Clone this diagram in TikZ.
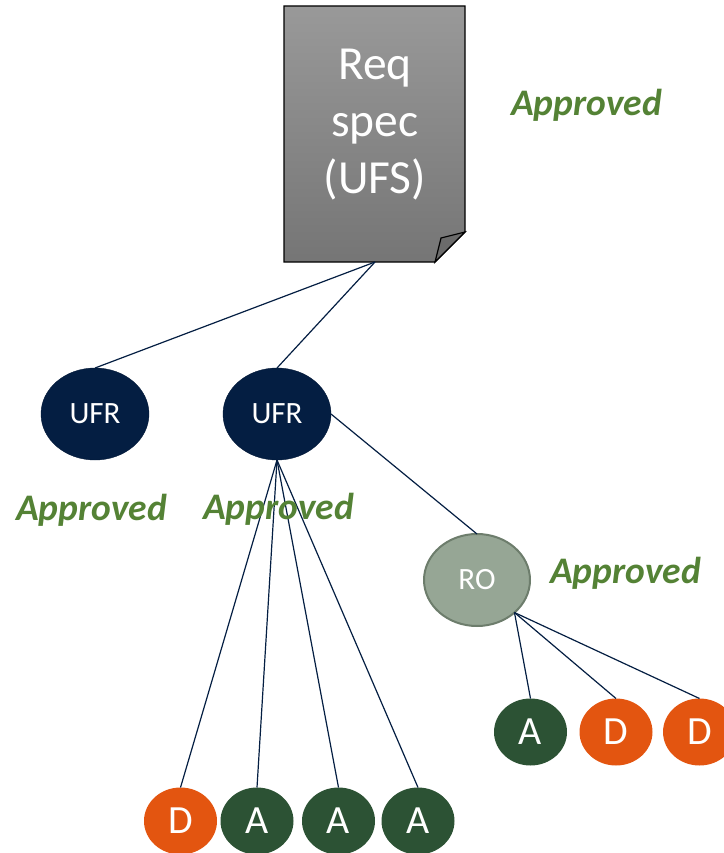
\documentclass[tikz,border=0pt]{standalone}
\usepackage{fontspec}
\setmainfont{Carlito}
\usetikzlibrary{shapes.geometric}
\definecolor{navy}{HTML}{041E42}
\definecolor{sage}{HTML}{96A695}
\definecolor{sageline}{HTML}{6D7D6C}
\definecolor{forest}{HTML}{2C5234}
\definecolor{burnt}{HTML}{E35510}
\definecolor{okgreen}{HTML}{548235}
\newcommand{\textok}{Approved}
\begin{document}
\begin{tikzpicture}[
    x=1pt,y=-1pt,
    any/.style={ellipse,inner sep=0pt,outer sep=0pt,text=white},
    ufr/.style={any,draw=navy!85!black,fill=navy,minimum width=108pt,minimum height=92pt,font=\fontsize{31}{31}\selectfont},
    ro/.style={any,draw=sageline,line width=2pt,fill=sage,minimum width=106pt,minimum height=92pt,font=\fontsize{31}{31}\selectfont},
    leaf/.style={any,minimum width=73pt,minimum height=67pt,font=\fontsize{40}{40}\selectfont},
    accepted/.style={leaf,fill=forest},
    denied/.style={leaf,fill=burnt},
    link/.style={draw=navy,line width=1.2pt},
    status/.style={text=okgreen,inner sep=0pt,font=\fontsize{37.5}{37.5}\selectfont\bfseries\itshape}
]
\useasboundingbox (0,0) rectangle (723,853);

\path[draw=black,line width=1.2pt,top color=black!40,bottom color=black!54]
    (284,6) -- (465,6) -- (465,232) -- (435,262) -- (284,262) -- cycle;
\path[draw=black,line width=1.2pt,fill=black!58]
    (465,232) -- (441,238) -- (435,262) -- cycle;
\node (spec) [inner sep=0pt,text=white,align=center,font=\fontsize{47.5}{57}\selectfont] at (375,125)
    {Req\\spec\\(UFS)};
\coordinate (specfoot) at (375,262);

\node (ufra) [ufr] at (95,414) {UFR};
\node (ufrb) [ufr] at (277,414) {UFR};
\node (ro) [ro] at (477,580) {RO};

\node (d1) [denied] at (180.5,821) {D};
\node (a1) [accepted] at (257,821) {A};
\node (a2) [accepted] at (338.5,821) {A};
\node (a3) [accepted] at (418,821) {A};

\node (a4) [accepted] at (530.5,732) {A};
\node (d2) [denied] at (616,732) {D};
\node (d3) [denied] at (699.5,732) {D};

\draw[link] (specfoot) -- (ufra.north);
\draw[link] (specfoot) -- (ufrb.north);
\draw[link] (ufrb.east) -- (ro.north);
\foreach \leaf in {d1,a1,a2,a3}
    \draw[link] (ufrb.south) -- (\leaf.north);
\foreach \leaf in {a4,d2,d3}
    \draw[link] (ro.south east) -- (\leaf.north);

\node (oka) [status] at (586.5,105) {\textok};
\node (okb) [status] at (91.5,510) {\textok};
\node (okc) [status] at (278.5,509) {\textok};
\node (okd) [status] at (625.5,573) {\textok};
\end{tikzpicture}
\end{document}
